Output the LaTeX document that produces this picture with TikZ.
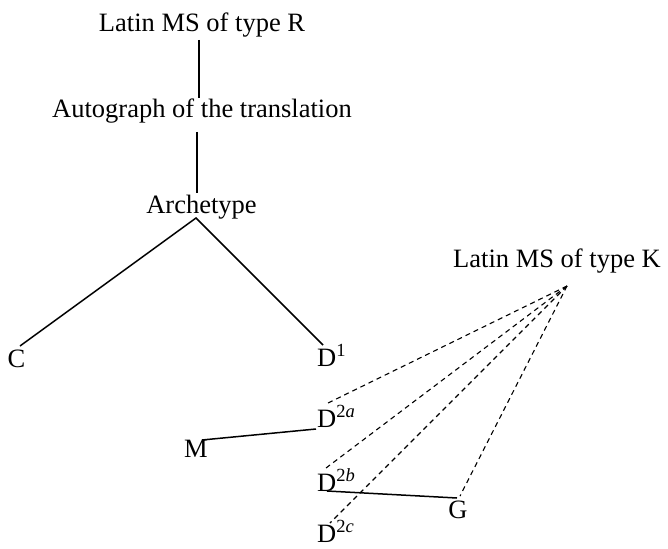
\documentclass[tikz,border=0pt]{standalone}
\usepackage{fontspec}
\setmainfont{Liberation Serif}
\usetikzlibrary{calc}
\begin{document}
\begin{tikzpicture}[x=1pt,y=-1pt,
  lbl/.style={inner sep=0pt,anchor=base,font=\fontsize{26.5}{30}\selectfont},
  sig/.style={inner sep=0pt,anchor=base west,font=\fontsize{26.5}{30}\selectfont},
  solidline/.style={line width=1.5pt},
  dashline/.style={line width=1.1pt,dash pattern=on 5pt off 4pt}]
\useasboundingbox (0,0) rectangle (668,548);
\node[lbl] (R) at (202,32) {Latin MS of type R};
\node[lbl] (Auto) at (202,118) {Autograph of the translation};
\node[lbl] (Arch) at (201.5,213) {Archetype};
\node[lbl] (K) at (557,267) {Latin MS of type K};
\node[lbl] (C) at (16.5,367) {C};
\node[sig] (D1) at (317,366) {D\textsuperscript{1}};
\node[sig] (D2a) at (317,427) {D\textsuperscript{2\textit{a}}};
\node[lbl] (M) at (196,457) {M};
\node[sig] (D2b) at (317,491) {D\textsuperscript{2\textit{b}}};
\node[lbl] (G) at (458,518) {G};
\node[sig] (D2c) at (317,542) {D\textsuperscript{2\textit{c}}};
% solid connectors
\draw[solidline] ($(R.base)+(-3,8)$) -- ($(Auto.base)+(-3,-20)$);
\draw[solidline] ($(Auto.base)+(-5,14)$) -- ($(Arch.base)+(-4.5,-20)$);
\draw[solidline] ($(C.base)+(3.5,-21)$) -- ($(Arch.base)+(-5.5,5)$) -- ($(D1.base west)+(6,-21)$);
\draw[solidline] ($(M.base)+(6,-17)$) -- ($(D2a.base west)+(-1,2)$);
\draw[solidline] ($(D2b.base west)+(10,0)$) -- ($(G.base)+(-1,-20)$);
% dashed connectors
\draw[dashline] ($(K.base)+(10,19)$) -- ($(D2a.base west)+(9,-23)$);
\draw[dashline] ($(K.base)+(10,19)$) -- ($(D2b.base west)+(9,-23)$);
\draw[dashline] ($(K.base)+(10,19)$) -- ($(D2c.base west)+(13,-19)$);
\draw[dashline] ($(K.base)+(10,19)$) -- ($(G.base)+(2,-22)$);
\end{tikzpicture}
\end{document}
